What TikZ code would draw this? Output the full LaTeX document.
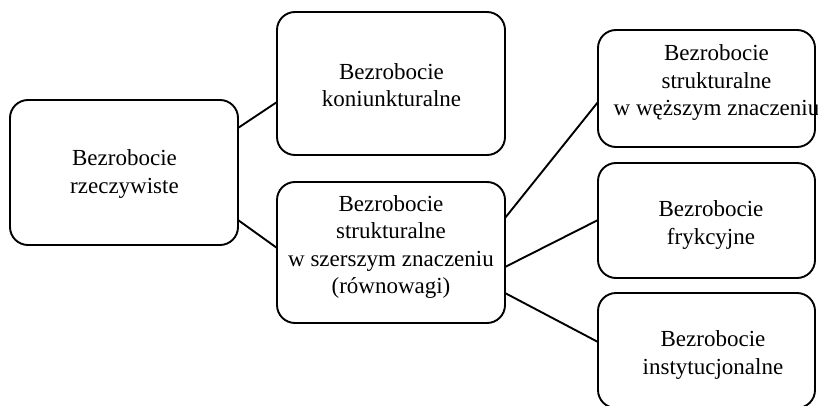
\documentclass[tikz,border=0pt]{standalone}
\usepackage{fontspec}
\setmainfont{Liberation Serif}
\begin{document}
\begin{tikzpicture}[x=1pt,y=-1pt,
  box/.style={draw, line width=1.9pt, rounded corners=18pt, inner sep=0pt, outer sep=0pt},
  lbl/.style={align=center, font=\fontsize{23}{27.5}\selectfont, inner sep=0pt},
  link/.style={line width=1.9pt}]
\useasboundingbox (0,0) rectangle (818,406);
% boxes
\node[box, minimum width=228pt, minimum height=145pt] (L) at (124,172.5) {};
\node[box, minimum width=228pt, minimum height=143pt] (K) at (391,83.5) {};
\node[box, minimum width=228pt, minimum height=141pt] (S) at (391,252.5) {};
\node[box, minimum width=217pt, minimum height=117pt] (R1) at (706.5,88.5) {};
\node[box, minimum width=217pt, minimum height=115pt] (R2) at (706.5,220.5) {};
\node[box, minimum width=217pt, minimum height=115pt] (R3) at (706.5,350.5) {};
% labels
\node[lbl] (Lt) at (124.5,174) {Bezrobocie\\rzeczywiste};
\node[lbl] (Kt) at (391.5,85) {Bezrobocie\\koniunkturalne};
\node[lbl] (St) at (391,247) {Bezrobocie\\strukturalne\\w szerszym znaczeniu\\(równowagi)};
\node[lbl] (R1t) at (716.5,83) {Bezrobocie\\strukturalne\\w węższym znaczeniu};
\node[lbl] (R2t) at (711,225) {Bezrobocie\\frykcyjne};
\node[lbl] (R3t) at (713,355) {Bezrobocie\\instytucjonalne};
% connectors
\draw[link] ([yshift=44.5pt]L.east) -- ([yshift=-18.5pt]K.west);
\draw[link] ([yshift=-47.5pt]L.east) -- ([yshift=4.5pt]S.west);
\draw[link] ([yshift=34.5pt]S.east) -- ([yshift=-13.5pt]R1.west);
\draw[link] ([yshift=-14.5pt]S.east) -- ([yshift=0.5pt]R2.west);
\draw[link] ([yshift=-40.5pt]S.east) -- ([yshift=8.5pt]R3.west);
\end{tikzpicture}
\end{document}
